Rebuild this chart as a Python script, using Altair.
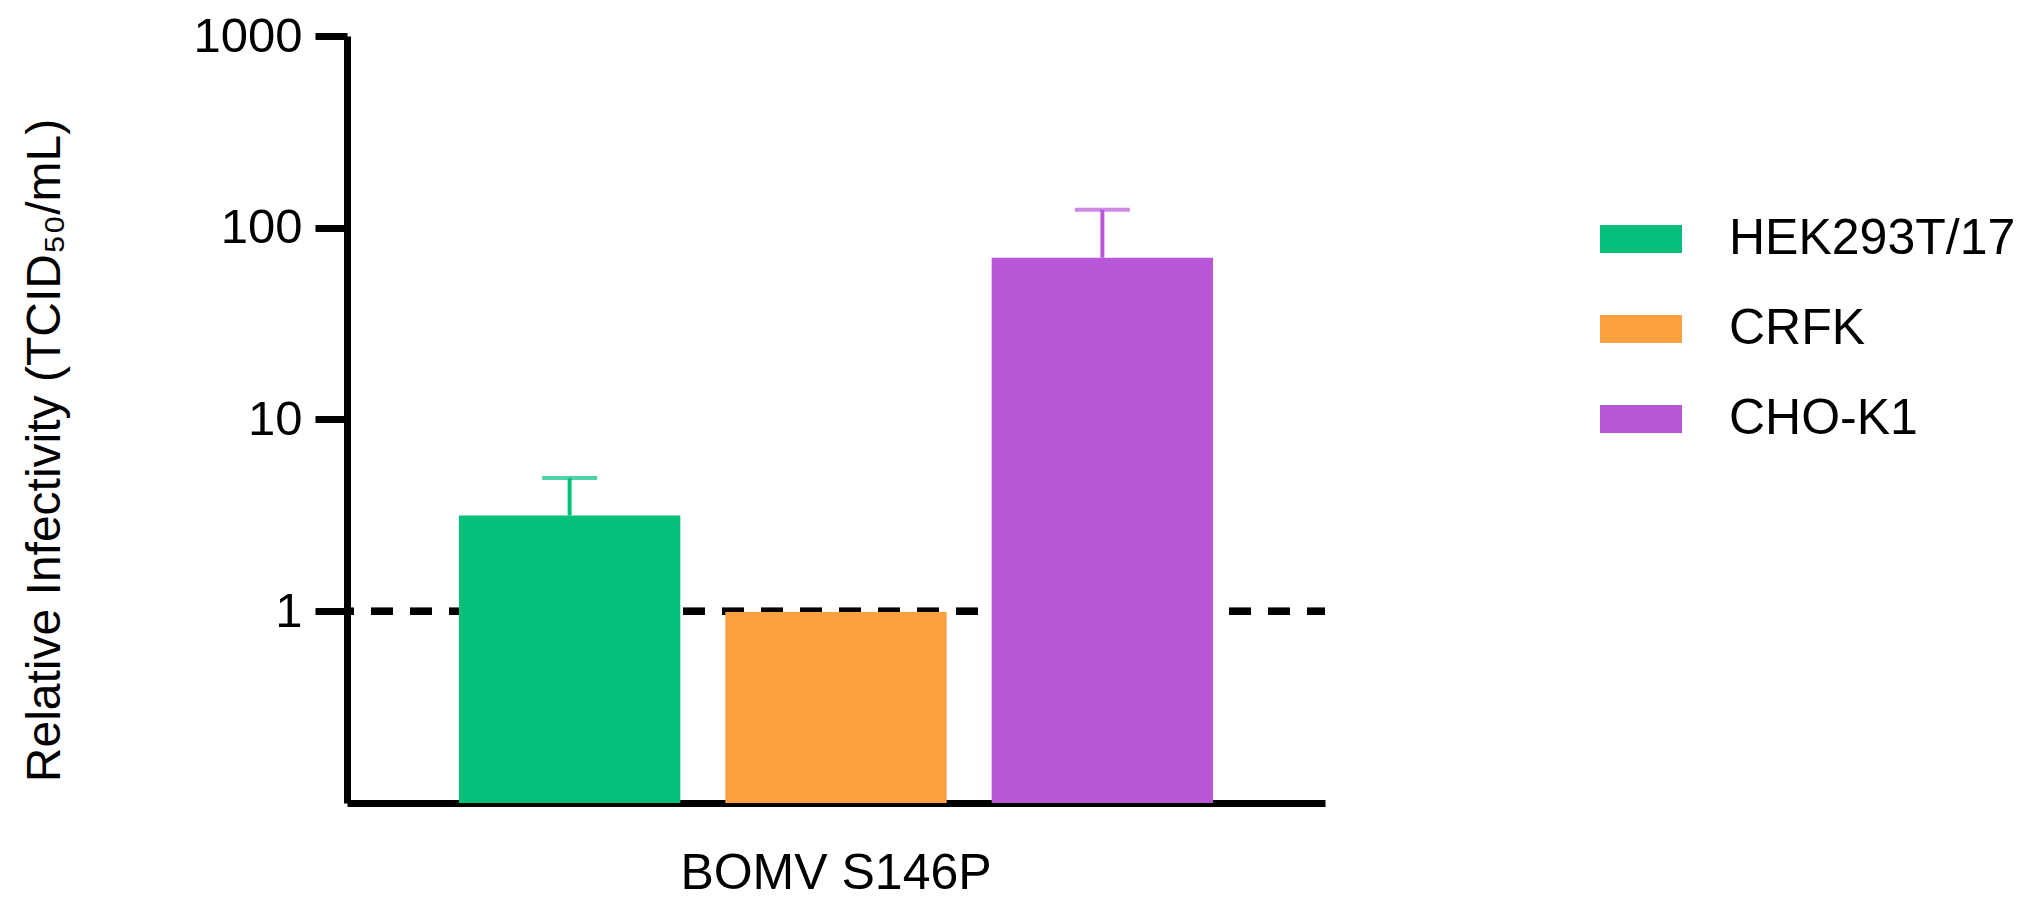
import altair as alt
import pandas as pd

group = ["BOMV S146P", "BOMV S146P", "BOMV S146P"]
cells = ["HEK293T/17", "CRFK", "CHO-K1"]
means = [3.16, 0.99, 69.8]
uppers = [4.95, 0.99, 124.0]
colors = ["#05BF7A", "#FCA040", "#B857D7"]
y_ticks = [1, 10, 100, 1000]

df = pd.DataFrame({"group": group, "cell": cells, "mean": means, "upper": uppers})

W, H = 978, 767
FONT = "Liberation Sans"

x_enc = alt.X("group:N", title=None,
              scale=alt.Scale(paddingOuter=0.1485, paddingInner=0),
              axis=alt.Axis(ticks=False, labelAngle=0, labelFontSize=50,
                            labelPadding=45, labelFont=FONT, labelColor="black",
                            labelLimit=0, domainWidth=7, domainColor="black"))
xo_enc = alt.XOffset("cell:N", sort=cells,
                     scale=alt.Scale(paddingInner=0.169, paddingOuter=0))
y_scale = alt.Scale(type="log", domain=[0.1, 1000], nice=False)
color_enc = alt.Color("cell:N", sort=cells,
                      scale=alt.Scale(domain=cells, range=colors),
                      legend=alt.Legend(
                          title=None, orient="none", legendX=1253, legendY=162,
                          symbolType="M-1,-0.341H1V0.341H-1Z", symbolSize=6724,
                          symbolStrokeWidth=0, labelFontSize=50, labelFont=FONT,
                          labelColor="black", labelOffset=47, labelLimit=0,
                          rowPadding=24, padding=0))

base = alt.Chart(df)

ref = base.mark_rule(color="black", strokeWidth=7, strokeDash=[22, 17],
                     strokeDashOffset=4).encode(y=alt.datum(1, scale=y_scale))

bars = base.mark_bar(strokeWidth=0).encode(
    x=x_enc,
    xOffset=xo_enc,
    y=alt.Y("mean:Q", scale=y_scale,
            axis=alt.Axis(values=y_ticks, format="d", tickSize=32, tickWidth=7,
                          tickColor="black", domainWidth=7, domainColor="black",
                          labelFontSize=49, labelFont=FONT, labelColor="black",
                          labelPadding=13, grid=False,
                          title="Relative Infectivity (TCID₅₀/mL)",
                          titleFont=FONT, titleFontSize=48, titleFontWeight="normal",
                          titleColor="black", titleAngle=270, titleX=-288, titleY=414,
                          titleAlign="center", titleBaseline="alphabetic")),
    y2=alt.datum(0.1),
    color=color_enc,
)

err = base.transform_filter(alt.datum.upper > alt.datum["mean"]).mark_rule(strokeWidth=4).encode(
    x=alt.X("group:N"),
    xOffset=xo_enc,
    y=alt.Y("mean:Q", scale=y_scale),
    y2="upper:Q",
    color=alt.Color("cell:N", sort=cells, scale=alt.Scale(domain=cells, range=colors), legend=None),
)

caps = base.transform_filter(alt.datum.upper > alt.datum["mean"]).mark_tick(
    orient="horizontal", size=55, thickness=4).encode(
    x=alt.X("group:N"),
    xOffset=xo_enc,
    y=alt.Y("upper:Q", scale=y_scale),
    color=alt.Color("cell:N", sort=cells, scale=alt.Scale(domain=cells, range=colors), legend=None),
)

chart = alt.layer(ref, bars, err, caps).properties(
    width=W, height=H,
    autosize=alt.AutoSizeParams(type="none"),
    padding={"left": 339, "top": 28, "right": 692, "bottom": 100},
).configure(background="white", view=alt.ViewConfig(strokeWidth=0, stroke="transparent"))

chart.save("out.html", embed_options={"renderer": "svg", "actions": False})
